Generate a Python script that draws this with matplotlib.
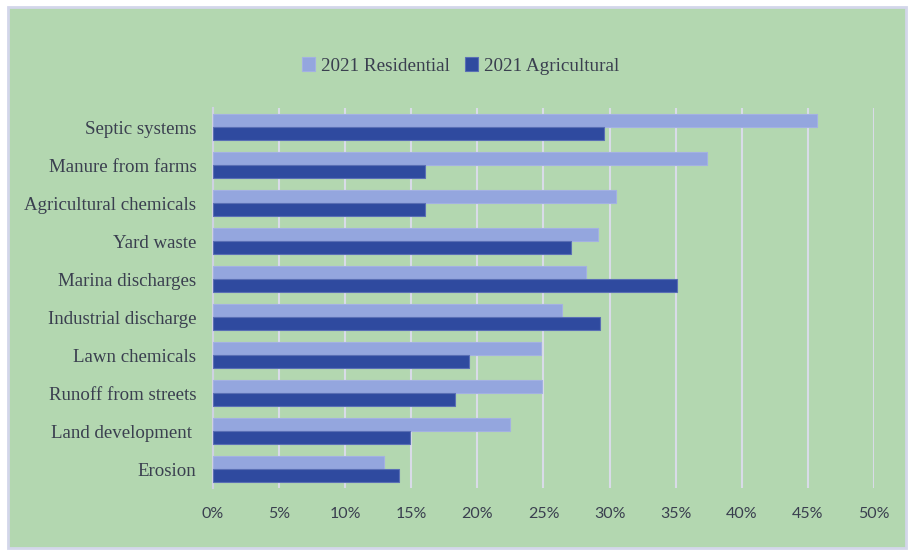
import numpy as np
import matplotlib.pyplot as plt
from matplotlib.patches import Rectangle

categories = ['Septic systems', 'Manure from farms', 'Agricultural chemicals', 'Yard waste',
              'Marina discharges', 'Industrial discharge', 'Lawn chemicals',
              'Runoff from streets', 'Land development ', 'Erosion']
residential = [45.7, 37.4, 30.5, 29.1, 28.2, 26.4, 24.8, 24.9, 22.5, 12.9]
agricultural = [29.6, 16.0, 16.0, 27.1, 35.1, 29.3, 19.4, 18.3, 14.9, 14.1]
xticks = [0, 5, 10, 15, 20, 25, 30, 35, 40, 45, 50]

green = '#b3d7b0'
c_res = '#94a6de'
c_agr = '#2f4a9f'
text_c = '#3a3f4f'

fig = plt.figure(figsize=(9.12, 5.54), dpi=100, facecolor='white')
# green chart area with thin lavender frame, kept behind the axes
fig.patches.append(Rectangle((8 / 912, 6 / 554), 898 / 912, 541 / 554, transform=fig.transFigure,
                             facecolor=green, edgecolor='#d3d6ea', linewidth=2, zorder=-10))

ax = fig.add_axes([213 / 912, 1 - 488 / 554, 661 / 912, 380 / 554])
ax.set_facecolor(green)

n = len(categories)
y = np.arange(n)[::-1]
h = 0.34
ax.barh(y + h / 2, residential, height=h, color=c_res, edgecolor='#a3b1e2', linewidth=0.8,
        label='2021 Residential', zorder=3)
ax.barh(y - h / 2, agricultural, height=h, color=c_agr, edgecolor='#5a6fb5', linewidth=0.8,
        label='2021 Agricultural', zorder=3)

ax.set_xlim(0, 50)
ax.set_ylim(-0.5, n - 0.5)
ax.set_xticks(xticks)
ax.set_xticklabels([f'{t}%' for t in xticks], fontfamily='Lato', fontsize=11.5, color=text_c)
ax.set_yticks(y)
ax.set_yticklabels(categories, fontfamily='Liberation Serif', fontsize=13.6, color=text_c)
ax.tick_params(axis='x', length=0, pad=14)
ax.tick_params(axis='y', length=0, pad=12)
ax.grid(axis='x', color='#d9dbe8', linewidth=1.5, zorder=1)
for s in ['top', 'right', 'bottom']:
    ax.spines[s].set_visible(False)
ax.spines['left'].set_color('#cfd2e2')
ax.spines['left'].set_linewidth(1.5)

fig.legend(loc='center', bbox_to_anchor=(0.505, 1 - 66 / 554), ncol=2, frameon=False,
           prop={'family': 'Liberation Serif', 'size': 13.8}, labelcolor=text_c,
           handlelength=0.7, handleheight=0.7, handletextpad=0.3, columnspacing=0.8)

fig.savefig('out.png', dpi=100, facecolor='white')
